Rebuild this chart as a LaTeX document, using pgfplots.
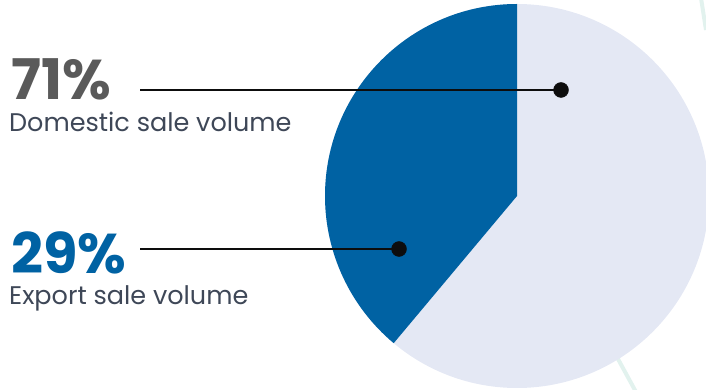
\documentclass[border=0pt]{standalone}
\usepackage{pgfplots}
\pgfplotsset{compat=1.18}
\usepackage{fontspec}
\setmainfont{Poppins}
\definecolor{pieblue}{HTML}{0062A3}
\definecolor{pielight}{HTML}{E4E8F4}
\definecolor{numgray}{HTML}{5A5A5A}
\definecolor{txtgray}{HTML}{3E4757}
\definecolor{deco}{HTML}{E2F2EE}
% shares as drawn in the picture (percent of the circle)
\def\exportshare{38.9}
\def\domesticshare{61.1}
\begin{document}
\begin{tikzpicture}
\begin{axis}[
  width=706pt, height=390pt, scale only axis,
  xmin=0, xmax=706, ymin=0, ymax=390, y dir=reverse,
  hide axis, clip=true,
]
% faint background decoration
\addplot[deco, line width=4pt] coordinates {(612,348) (636,392)};
\addplot[deco, line width=4pt] coordinates {(701,-2) (706,30)};
% pie
\pgfmathsetmacro{\endang}{90+3.6*\exportshare}
\fill[pielight] (axis cs:517,196) circle[radius=192pt];
\fill[pieblue] (axis cs:517,196) -- (axis cs:517,4) arc[start angle=90, end angle=\endang, radius=192pt] -- cycle;
% leader lines
\addplot[black!95, line width=2.2pt] coordinates {(140,90) (561,90)};
\addplot[black!95, line width=2.2pt] coordinates {(140,249) (399,249)};
\addplot[only marks, mark=*, mark size=7.5pt, black!95] coordinates {(561,90) (399,249)};
% labels
\node[anchor=base west, inner sep=0pt, text=numgray, font=\fontsize{56}{56}\selectfont\bfseries] at (axis cs:11,99.5) {71\%};
\node[anchor=base west, inner sep=0pt, text=txtgray, font=\fontsize{25.5}{25.5}\selectfont] at (axis cs:9,131.5) {Domestic sale volume};
\node[anchor=base west, inner sep=0pt, text=pieblue, font=\fontsize{56}{56}\selectfont\bfseries] at (axis cs:11,273.5) {29\%};
\node[anchor=base west, inner sep=0pt, text=txtgray, font=\fontsize{25.5}{25.5}\selectfont] at (axis cs:9,304.5) {Export sale volume};
\end{axis}
\pgfresetboundingbox
\path[use as bounding box] (current axis.south west) rectangle (current axis.north east);
\end{tikzpicture}
\end{document}
